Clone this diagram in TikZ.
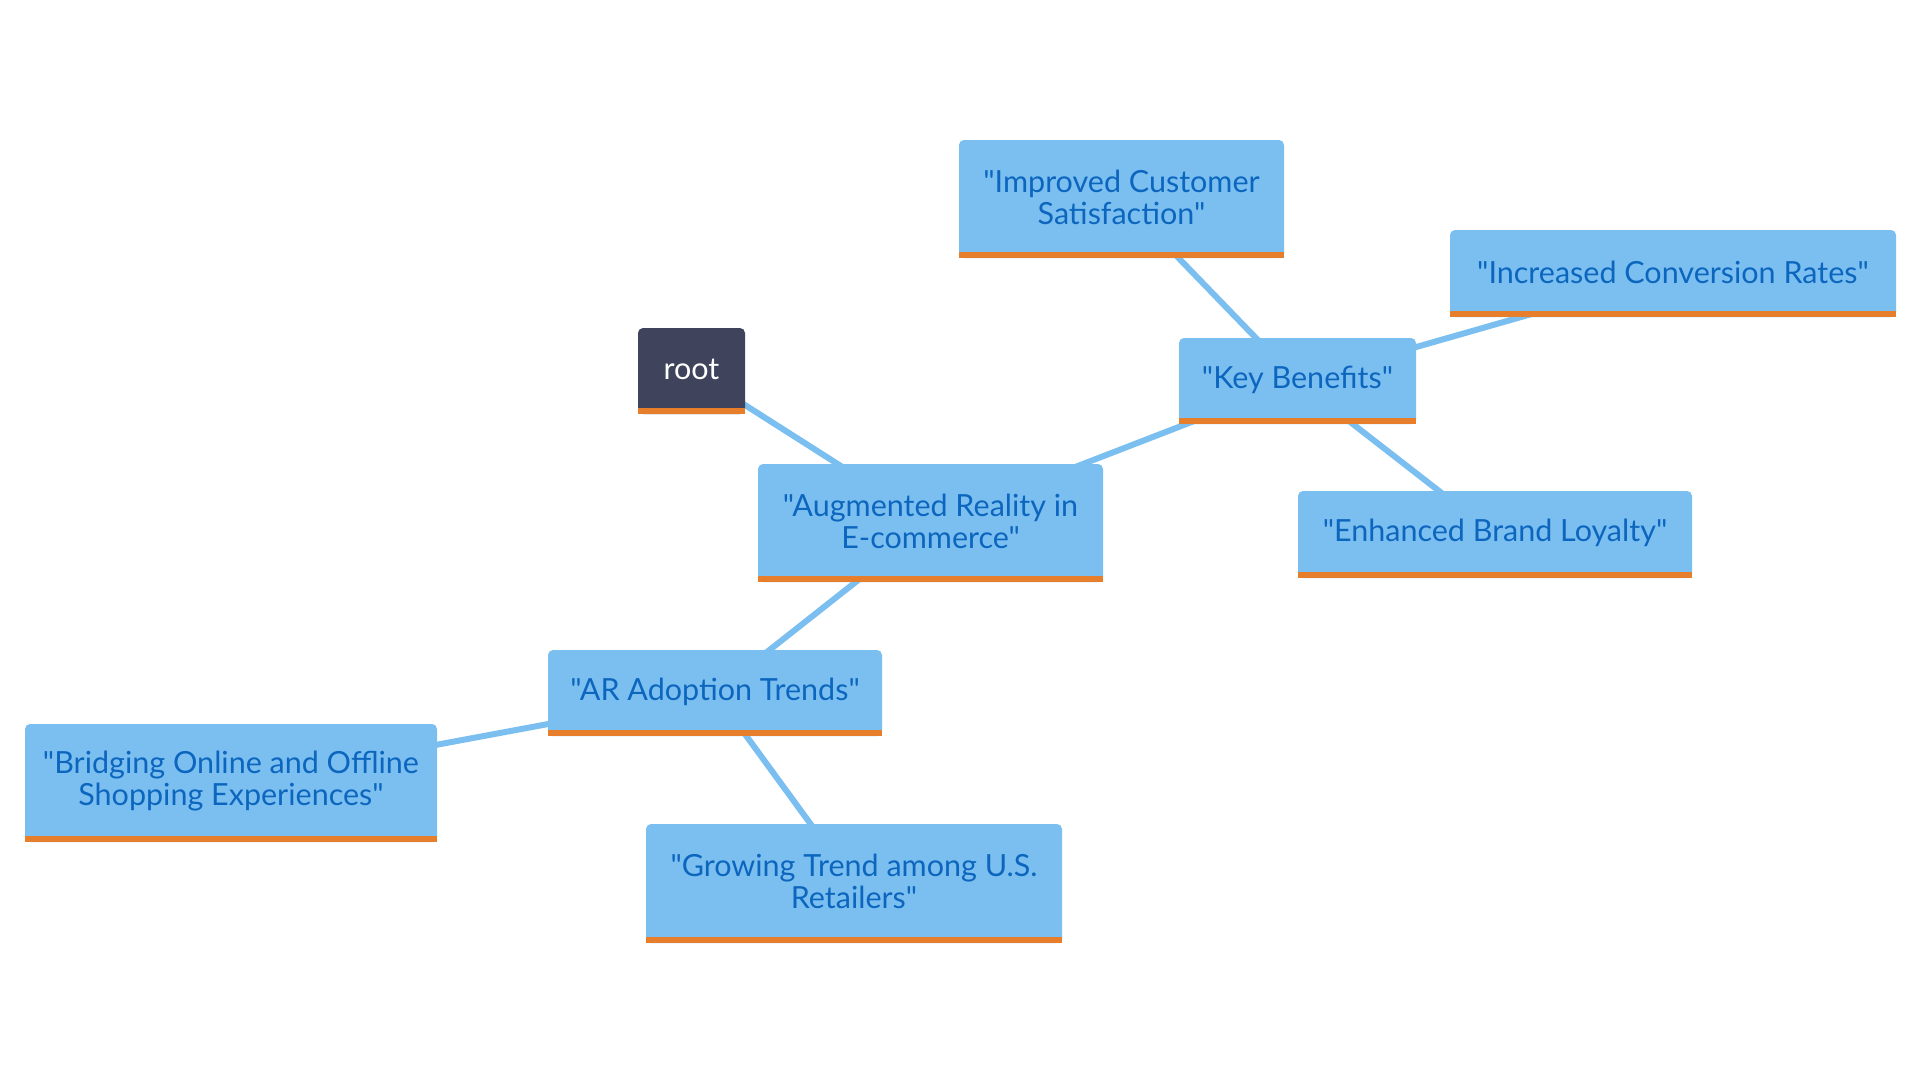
\documentclass[tikz,border=0pt]{standalone}
\usepackage{fontspec}
\setmainfont{Lato}[Ligatures=TeXOff]
\usetikzlibrary{calc}
\pgfdeclarelayer{background}
\pgfdeclarelayer{canvas}
\pgfsetlayers{canvas,background,main}
\definecolor{boxfill}{RGB}{123,191,241}
\definecolor{boxtext}{RGB}{12,102,190}
\definecolor{bar}{RGB}{230,126,44}
\definecolor{rootfill}{RGB}{63,68,92}
\definecolor{edge}{RGB}{123,191,241}
\tikzset{
  mm/.style={fill=boxfill, rounded corners=5pt, inner sep=0pt},
  rootbox/.style={mm, fill=rootfill},
  lbl/.style={text=boxtext, align=center, inner sep=0pt, font=\fontsize{30.5}{32}\selectfont},
  rootlbl/.style={lbl, text=white},
  link/.style={draw=edge, line width=6pt},
}
\newcommand{\mmbar}[1]{\fill[bar] (#1.south west) rectangle ($(#1.south east)+(0,-6)$);}
\begin{document}
\begin{tikzpicture}[x=1pt,y=-1pt]
\useasboundingbox (0,0) rectangle (1920,1080);
\begin{pgfonlayer}{canvas}
\fill[white] (0,0) rectangle (1920,1080);
\end{pgfonlayer}
\node[rootbox, minimum width=107pt, minimum height=86pt] (root) at (691.5,371) {};
\node[rootlbl] (roott) at (691.5,369) {root};
\node[mm, minimum width=345pt, minimum height=118pt] (aug) at (930.5,523) {};
\node[lbl] (augt) at (930.5,521) {"Augmented Reality in\\E-commerce"};
\node[mm, minimum width=237pt, minimum height=86pt] (key) at (1297.5,381) {};
\node[lbl] (keyt) at (1297.5,380) {"Key Benefits"};
\node[mm, minimum width=325pt, minimum height=118pt] (imp) at (1121.5,199) {};
\node[lbl] (impt) at (1121.5,197) {"Improved Customer\\Satisfaction"};
\node[mm, minimum width=446pt, minimum height=87pt] (inc) at (1673,273.5) {};
\node[lbl] (inct) at (1673,272) {"Increased Conversion Rates"};
\node[mm, minimum width=394pt, minimum height=87pt] (enh) at (1495,534.5) {};
\node[lbl] (enht) at (1495,533) {"Enhanced Brand Loyalty"};
\node[mm, minimum width=334pt, minimum height=86pt] (ar) at (715,693) {};
\node[lbl] (art) at (715,692) {"AR Adoption Trends"};
\node[mm, minimum width=412pt, minimum height=118pt] (bri) at (231,783) {};
\node[lbl] (brit) at (231,781) {"Bridging Online and Offline\\Shopping Experiences"};
\node[mm, minimum width=416pt, minimum height=119pt] (gro) at (854,883.5) {};
\node[lbl] (grot) at (854,881.5) {"Growing Trend among U.S.\\Retailers"};
\foreach \n in {root,aug,key,imp,inc,enh,ar,bri,gro}{\mmbar{\n}}
\begin{pgfonlayer}{background}
\draw[link] (root.center) -- (aug.center);
\draw[link] (aug.center) -- (key.center);
\draw[link] (key.center) -- (imp.center);
\draw[link] (key.center) -- (inc.center);
\draw[link] (key.center) -- (enh.center);
\draw[link] (aug.center) -- (ar.center);
\draw[link] (ar.center) -- (bri.center);
\draw[link] (ar.center) -- (gro.center);
\end{pgfonlayer}
\end{tikzpicture}
\end{document}
